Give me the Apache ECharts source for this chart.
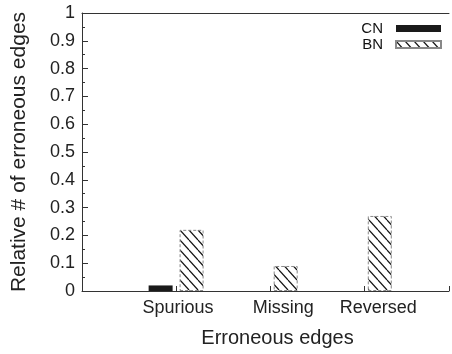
<!DOCTYPE html>
<html>
<head>
<meta charset="utf-8">
<script src="https://cdn.jsdelivr.net/npm/echarts@6/dist/echarts.min.js"></script>
<style>html,body{margin:0;padding:0;background:#fff}#c{width:452px;height:354px}</style>
</head>
<body>
<div id="c"></div>
<script>
const categories = ['Spurious', 'Missing', 'Reversed'];
const cnValues = [0.02, 0, 0];
const bnValues = [0.22, 0.09, 0.27];
const seriesNames = ['CN', 'BN'];

function hatch() {
  const w = 9, h = 10;
  const cv = document.createElement('canvas');
  cv.width = w; cv.height = h;
  const ctx = cv.getContext('2d');
  ctx.fillStyle = '#fff';
  ctx.fillRect(0, 0, w, h);
  ctx.strokeStyle = '#111';
  ctx.lineWidth = 1.2;
  for (let k = -1; k <= 1; k++) {
    ctx.beginPath();
    ctx.moveTo(k * w, 0);
    ctx.lineTo(k * w + w, h);
    ctx.stroke();
  }
  return cv;
}

const font = "'Liberation Sans', Arial, Helvetica, sans-serif";
const axisColor = '#333';
const chart = echarts.init(document.getElementById('c'), null, { renderer: 'canvas' });

const labelPad = [4, 26, 28];
const rich = {};
categories.forEach((c, i) => {
  rich['c' + i] = { fontSize: 18, fontFamily: font, color: '#222', padding: [0, 0, 0, labelPad[i]] };
});

chart.setOption({
  animation: false,
  backgroundColor: '#fff',
  textStyle: { fontFamily: font },
  grid: { left: 82, right: 0, top: 13, bottom: 63 },
  legend: {
    orient: 'vertical',
    right: 5,
    top: 16,
    align: 'right',
    itemWidth: 45,
    itemHeight: 7,
    itemGap: 1,
    icon: 'rect',
    textStyle: { fontSize: 15, fontFamily: font, color: '#111', padding: [0, 8, 0, 0] },
    data: seriesNames
  },
  xAxis: [{
    type: 'value',
    min: -1,
    max: 2.9,
    interval: 1,
    name: 'Erroneous edges',
    nameLocation: 'middle',
    nameGap: 37,
    nameTextStyle: { fontSize: 20, fontFamily: font, color: '#222', padding: [0, 0, 0, 24] },
    axisLine: { show: true, onZero: false, lineStyle: { color: axisColor, width: 1 } },
    axisTick: { show: true, inside: true, length: 5, lineStyle: { color: axisColor } },
    splitLine: { show: false },
    axisLabel: {
      margin: 8,
      showMinLabel: true,
      showMaxLabel: true,
      formatter: function (v) {
        const i = Math.round(v);
        if (Math.abs(v - i) > 1e-6 || i < 0 || i >= categories.length) return '';
        return '{c' + i + '|' + categories[i] + '}';
      },
      rich: rich
    }
  }, {
    type: 'value',
    position: 'top',
    min: -1,
    max: 2.9,
    axisLine: { show: true, onZero: false, lineStyle: { color: axisColor, width: 1 } },
    axisTick: { show: false },
    axisLabel: { show: false },
    splitLine: { show: false }
  }],
  yAxis: {
    type: 'value',
    min: 0,
    max: 1,
    interval: 0.1,
    name: 'Relative # of erroneous edges',
    nameLocation: 'middle',
    nameGap: 52,
    nameTextStyle: { fontSize: 21, fontFamily: font, color: '#222' },
    axisLine: { show: true, onZero: false, lineStyle: { color: axisColor, width: 1 } },
    axisTick: { show: true, inside: true, length: 6, lineStyle: { color: axisColor } },
    minorTick: { show: true, splitNumber: 2, length: 3, lineStyle: { color: axisColor } },
    splitLine: { show: false },
    axisLabel: { fontSize: 18, fontFamily: font, color: '#222', margin: 7 }
  },
  series: [{
    name: seriesNames[0],
    type: 'bar',
    xAxisIndex: 0,
    barWidth: 24,
    barGap: '29%',
    itemStyle: { color: '#1a1a1a' },
    data: cnValues.map((v, i) => [i, v])
  }, {
    name: seriesNames[1],
    type: 'bar',
    xAxisIndex: 0,
    barWidth: 24,
    barGap: '29%',
    itemStyle: {
      color: { image: hatch(), repeat: 'repeat' },
      borderColor: '#888',
      borderWidth: 1,
      borderType: [3, 2]
    },
    data: bnValues.map((v, i) => [i, v])
  }]
});
</script>
</body>
</html>
